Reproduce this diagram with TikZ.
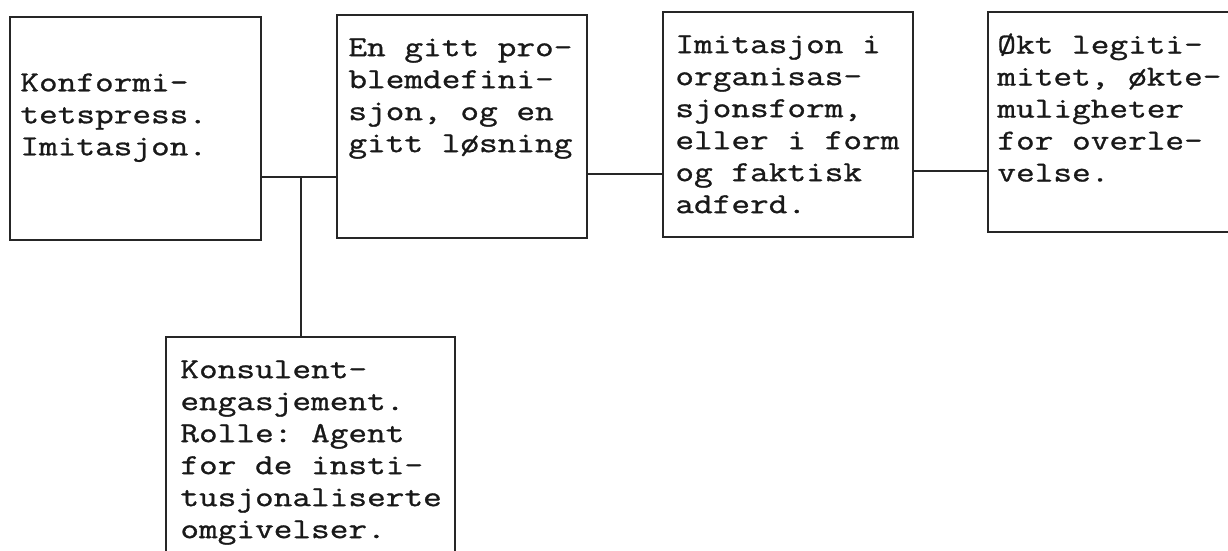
\documentclass[tikz,border=0pt]{standalone}
\usepackage{fontspec}
\setmonofont{Latin Modern Mono}[FakeStretch=1.25, FakeBold=1]
\begin{document}
\begin{tikzpicture}[x=0.5pt,y=-0.5pt,
  box/.style={draw=black!85, line width=1.1pt, rectangle, inner sep=0pt, outer sep=0pt, anchor=north west},
  txt/.style={anchor=north west, inner sep=0pt, align=left,
    font=\ttfamily\fontsize{14.5}{16}\selectfont, text=black!90},
  link/.style={draw=black!85, line width=1.1pt}]
\useasboundingbox (0,0) rectangle (1228,551);
\clip (0,0) rectangle (1228,551);

% the five boxes; the last two run past the frame edges
\node[box, minimum width=125.5pt, minimum height=111.5pt] (press) at (10,17) {};
\node[box, minimum width=125pt,   minimum height=111.5pt] (def)   at (337,15) {};
\node[box, minimum width=125pt,   minimum height=112.5pt] (imit)  at (663,12) {};
\node[box, minimum width=130pt,   minimum height=110pt]   (legit) at (988,12) {};
\node[box, minimum width=144.5pt, minimum height=131.5pt] (kons)  at (166,337) {};

% texts
\node[txt] (tpress) at (20,73)  {Konformi-\\tetspress.\\Imitasjon.};
\node[txt] (tdef)   at (348,38) {En gitt pro-\\blemdefini-\\sjon, og en\\gitt løsning};
\node[txt] (timit)  at (675,35) {Imitasjon i\\organisas-\\sjonsform,\\eller i form\\og faktisk\\adferd.};
\node[txt] (tlegit) at (997,33) {Økt legiti-\\mitet, økte-\\muligheter\\for overle-\\velse.};
\node[txt] (tkons)  at (180,360) {Konsulent-\\engasjement.\\Rolle: Agent\\for de insti-\\tusjonaliserte\\omgivelser.};

% connectors
\coordinate (j) at (301,177);
\coordinate (k) at (600,174);
\coordinate (l) at (930,171);
\draw[link] (j -| press.east) -- (j -| def.west);
\draw[link] (j) -- (j |- kons.north);
\draw[link] (k -| def.east) -- (k -| imit.west);
\draw[link] (l -| imit.east) -- (l -| legit.west);
\end{tikzpicture}
\end{document}
